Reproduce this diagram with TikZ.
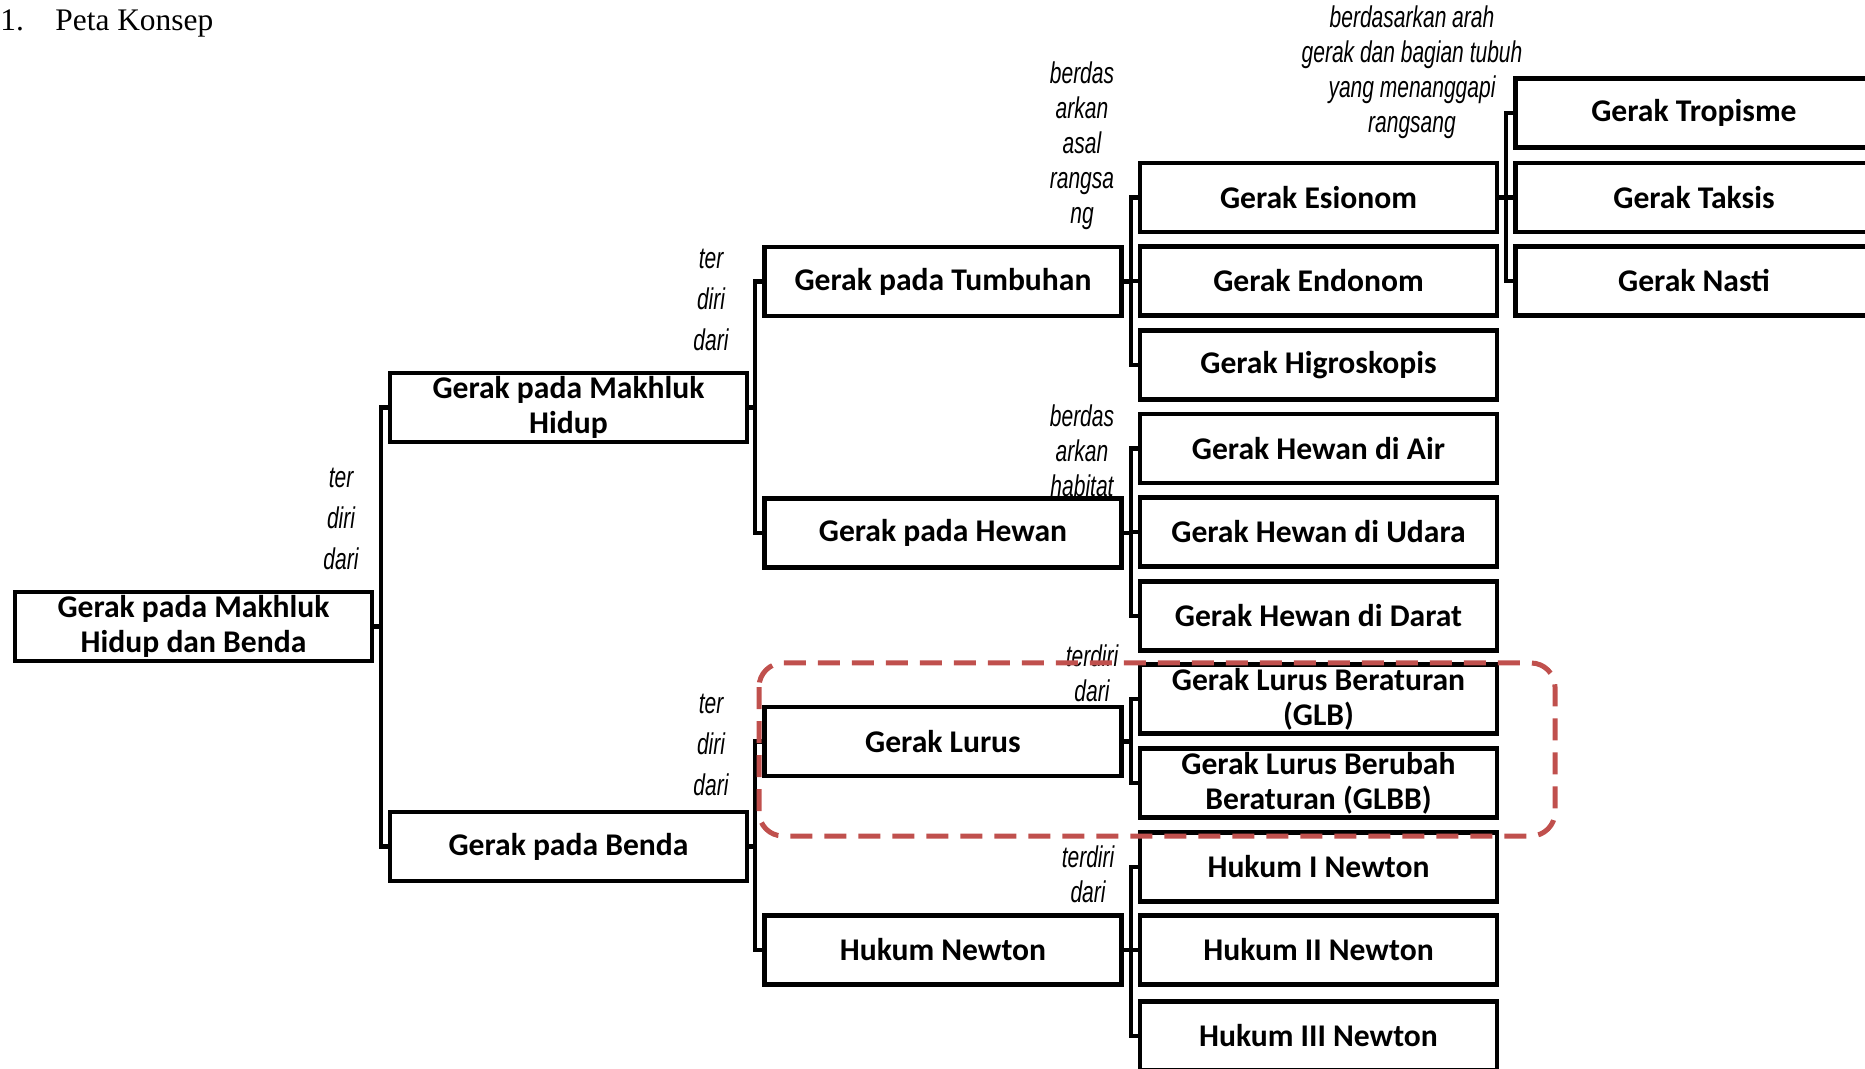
\documentclass[tikz,border=0pt]{standalone}
\usepackage{fontspec}
\setmainfont{Liberation Serif}
\newfontfamily\boxfont{Carlito}
\newfontfamily\lblfont[FakeStretch=0.7]{Liberation Sans}
\definecolor{merah}{RGB}{192,80,77}
\tikzset{
  konsep/.style={draw, line width=2.4pt, fill=white, minimum width=178.5pt, minimum height=34.5pt,
    inner sep=1pt, align=center, font=\boxfont\bfseries\fontsize{15.8}{17.5}\selectfont},
  ket/.style={inner sep=0pt, align=center, font=\lblfont\itshape\fontsize{15}{17.5}\selectfont},
  ketlebar/.style={ket, font=\lblfont\itshape\fontsize{15}{20.5}\selectfont},
  hubung/.style={line width=2.1pt},
  sorot/.style={merah, line width=2.5pt, dash pattern=on 11pt off 6pt, rounded corners=12pt}
}
\begin{document}
\begin{tikzpicture}[x=0.5pt,y=-0.5pt]
    \useasboundingbox (0,0) rectangle (1865,1069);
    \clip (0,0) rectangle (1865,1069);
    % judul
    \node[anchor=base west, inner sep=0pt, font=\fontsize{15.7}{18}\selectfont] (nomor) at (0,31) {1.};
    \node[anchor=base west, inner sep=0pt, font=\fontsize{15.7}{18}\selectfont] (judul) at (55,31) {Peta Konsep};
    % keterangan cabang
    \node[ketlebar] (k1) at (341,519) {ter\\diri\\dari};
    \node[ketlebar] (k2) at (711,300) {ter\\diri\\dari};
    \node[ketlebar] (k3) at (711,745) {ter\\diri\\dari};
    \node[ket] (k4) at (1082,146) {berdas\\arkan\\asal\\rangsa\\ng};
    \node[ket] (k5) at (1082,451) {berdas\\arkan\\habitat};
    \node[ket] (k6) at (1412,72) {berdasarkan arah\\gerak dan bagian tubuh\\yang menanggapi\\rangsang};
    \node[ket] (k7) at (1092,673) {terdiri\\dari};
    \node[ket] (k8) at (1088,874) {terdiri\\dari};
    % kotak konsep
    \node[konsep] (root) at (193.5,626.5) {Gerak pada Makhluk\\Hidup dan Benda};
    \node[konsep] (hidup) at (568.5,407.5) {Gerak pada Makhluk\\Hidup};
    \node[konsep] (benda) at (568.5,846.5) {Gerak pada Benda};
    \node[konsep] (tumbuhan) at (943,281.5) {Gerak pada Tumbuhan};
    \node[konsep] (hewan) at (943,533) {Gerak pada Hewan};
    \node[konsep] (lurus) at (943,741.5) {Gerak Lurus};
    \node[konsep] (newton) at (943,950) {Hukum Newton};
    \node[konsep] (esionom) at (1318.5,197.5) {Gerak Esionom};
    \node[konsep] (endonom) at (1318.5,281) {Gerak Endonom};
    \node[konsep] (higro) at (1318.5,365) {Gerak Higroskopis};
    \node[konsep] (air) at (1318.5,448.5) {Gerak Hewan di Air};
    \node[konsep] (udara) at (1318.5,532) {Gerak Hewan di Udara};
    \node[konsep] (darat) at (1318.5,616) {Gerak Hewan di Darat};
    \node[konsep] (glb) at (1318.5,699) {Gerak Lurus Beraturan\\(GLB)};
    \node[konsep] (glbb) at (1318.5,783) {Gerak Lurus Berubah\\Beraturan (GLBB)};
    \node[konsep] (hk1) at (1318.5,867) {Hukum I Newton};
    \node[konsep] (hk2) at (1318.5,950) {Hukum II Newton};
    \node[konsep] (hk3) at (1318.5,1036) {Hukum III Newton};
    \node[konsep] (tropisme) at (1694,113) {Gerak Tropisme};
    \node[konsep] (taksis) at (1694,197.5) {Gerak Taksis};
    \node[konsep] (nasti) at (1694,281) {Gerak Nasti};
    % garis cabang
    \foreach \induk/\awal/\akhir in {root/hidup/benda, hidup/tumbuhan/hewan, benda/lurus/newton,
        tumbuhan/esionom/higro, hewan/air/darat, lurus/glb/glbb, newton/hk1/hk3, esionom/tropisme/nasti}{
        \draw[hubung] (\awal.west) -- ++(-7,0) coordinate (tiang) |- (\akhir.west);
        \draw[hubung] (\induk.east) -- (\induk.east -| tiang);
    }
    \foreach \anak in {endonom, udara, hk2, taksis}
        \draw[hubung] (\anak.west) -- ++(-7,0);
    % sorotan gerak lurus
    \draw[sorot] (759,663) rectangle (1555,836);
\end{tikzpicture}
\end{document}
